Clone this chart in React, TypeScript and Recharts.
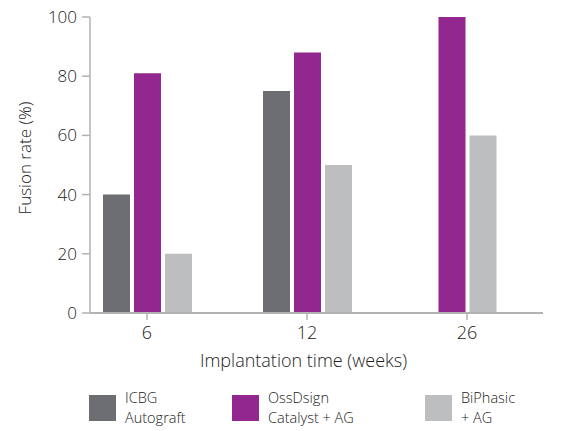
import React from 'react';
import { BarChart, Bar, XAxis, YAxis, Label, Rectangle } from 'recharts';

const weeks = ['6', '12', '26'];
const icbgAutograft = [40, 75, null];
const ossdsignCatalyst = [81, 88, 100];
const biphasic = [20, 50, 60];
const yTicks = [0, 20, 40, 60, 80, 100];

const series = [
  { key: 'icbg', lines: ['ICBG', 'Autograft'], color: '#6d6e71' },
  { key: 'oss', lines: ['OssDsign', 'Catalyst + AG'], color: '#92278f' },
  { key: 'bi', lines: ['BiPhasic', '+ AG'], color: '#bcbec0' },
];

const chartData = weeks.map((w, i) => ({
  week: w,
  icbg: icbgAutograft[i],
  oss: ossdsignCatalyst[i],
  bi: biphasic[i],
}));

const FONT = '"Open Sans", sans-serif';
const AXIS = '#b3b3b3';
const TEXT = '#222';
const BAR = 27;
const GAP = 4;

// legend items sit at fixed left offsets under the plot
const legendLeft = [81, 224, 417];

// when a week has no ICBG bar the remaining two are centred on the tick
const CenteredBar = (props: any) => {
  const shift = props.payload?.icbg == null ? -(BAR + GAP) / 2 : 0;
  return <Rectangle {...props} x={props.x + shift} />;
};

export default function App() {
  return (
    <div style={{ position: 'relative', width: 545, height: 431, marginTop: -8, fontFamily: FONT }}>
      <BarChart
        width={545}
        height={431}
        data={chartData}
        margin={{ top: 17, right: 10, bottom: 58, left: 22 }}
        barSize={BAR}
        barGap={GAP}
      >
        <XAxis
          dataKey="week"
          height={60}
          padding={{ left: -23, right: -4 }}
          axisLine={{ stroke: AXIS, strokeWidth: 2 }}
          tickLine={{ stroke: AXIS, strokeWidth: 1.5 }}
          tickSize={7}
          tickMargin={6}
          tick={{ fill: TEXT, fontSize: 18, fontFamily: FONT, fontWeight: 300 }}
        >
          <Label
            value="Implantation time (weeks)"
            position="center"
            dx={-13}
            dy={18}
            style={{ fill: TEXT, fontSize: 18, fontFamily: FONT, fontWeight: 300 }}
          />
        </XAxis>
        <YAxis
          width={60}
          domain={[0, 100]}
          ticks={yTicks}
          interval={0}
          axisLine={{ stroke: AXIS, strokeWidth: 1.5 }}
          tickLine={{ stroke: AXIS, strokeWidth: 1.5 }}
          tickSize={8}
          tickMargin={5}
          tick={{ fill: TEXT, fontSize: 17, fontFamily: FONT, fontWeight: 300 }}
        >
          <Label
            value="Fusion rate (%)"
            angle={-90}
            position="center"
            dx={-35}
            dy={-7}
            style={{ fill: TEXT, fontSize: 17, fontFamily: FONT, fontWeight: 300, textAnchor: 'middle' }}
          />
        </YAxis>
        {series.map(s => (
          <Bar key={s.key} dataKey={s.key} fill={s.color} shape={CenteredBar} isAnimationActive={false} />
        ))}
      </BarChart>
      {series.map((s, i) => (
        <div
          key={s.key}
          style={{
            position: 'absolute',
            top: 388,
            left: legendLeft[i],
            display: 'flex',
            alignItems: 'center',
          }}
        >
          <div style={{ width: 27, height: 26, background: s.color, marginRight: 9 }} />
          <div style={{ fontSize: 14.5, lineHeight: '20px', color: TEXT, fontWeight: 300 }}>
            {s.lines[0]}
            <br />
            {s.lines[1]}
          </div>
        </div>
      ))}
    </div>
  );
}
